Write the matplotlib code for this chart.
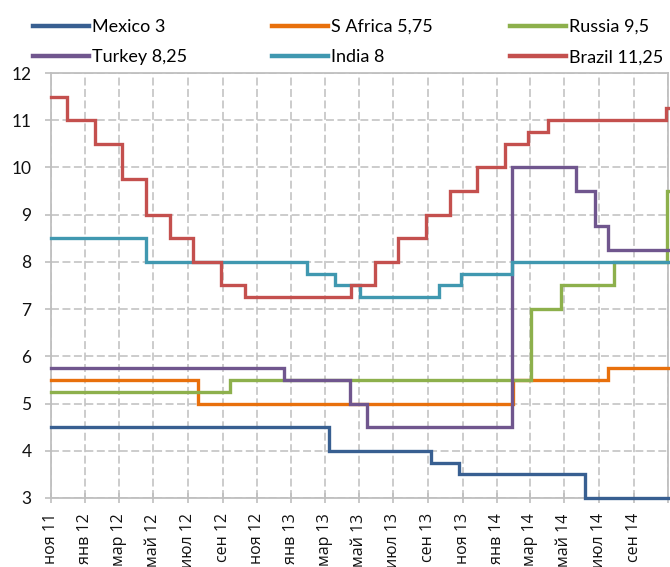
import matplotlib
matplotlib.use("Agg")
import matplotlib.pyplot as plt
from matplotlib.lines import Line2D
import numpy as np

plt.rcParams['font.family'] = ['Lato', 'Open Sans', 'DejaVu Sans']

# Policy rate changes (effective date, new rate, %)
mexico_dates = ['2011-11-01', '2013-03-08', '2013-09-06', '2013-10-25', '2014-06-06']
mexico_rates = [4.5, 4.0, 3.75, 3.5, 3.0]

safrica_dates = ['2011-11-01', '2012-07-19', '2014-01-29', '2014-07-17']
safrica_rates = [5.5, 5.0, 5.5, 5.75]

russia_dates = ['2011-11-01', '2012-09-14', '2014-03-03', '2014-04-25', '2014-07-28', '2014-10-31']
russia_rates = [5.25, 5.5, 7.0, 7.5, 8.0, 9.5]

turkey_dates = ['2011-11-01', '2012-12-18', '2013-04-16', '2013-05-16', '2014-01-28',
                '2014-05-22', '2014-06-24', '2014-07-17']
turkey_rates = [5.75, 5.5, 5.0, 4.5, 10.0, 9.5, 8.75, 8.25]

india_dates = ['2011-11-01', '2012-04-17', '2013-01-29', '2013-03-19', '2013-05-03',
               '2013-09-20', '2013-10-29', '2014-01-28']
india_rates = [8.5, 8.0, 7.75, 7.5, 7.25, 7.5, 7.75, 8.0]

brazil_dates = ['2011-11-01', '2011-11-30', '2012-01-18', '2012-03-07', '2012-04-18',
                '2012-05-30', '2012-07-11', '2012-08-29', '2012-10-10', '2013-04-17',
                '2013-05-29', '2013-07-10', '2013-08-28', '2013-10-09', '2013-11-27',
                '2014-01-15', '2014-02-26', '2014-04-02', '2014-10-29']
brazil_rates = [11.5, 11.0, 10.5, 9.75, 9.0, 8.5, 8.0, 7.5, 7.25, 7.5, 8.0, 8.5, 9.0,
                9.5, 10.0, 10.5, 10.75, 11.0, 11.25]

series_names = ['Mexico', 'S Africa', 'Russia', 'Turkey', 'India', 'Brazil']
series_dates = [mexico_dates, safrica_dates, russia_dates, turkey_dates, india_dates, brazil_dates]
series_rates = [mexico_rates, safrica_rates, russia_rates, turkey_rates, india_rates, brazil_rates]
series_colors = ['#385F91', '#E8700C', '#8DB04C', '#70568E', '#4098B0', '#C4504E']

start_date = '2011-11-01'
end_date = '2014-11-01'

tick_dates = ['2011-11-01', '2012-01-01', '2012-03-01', '2012-05-01', '2012-07-01',
              '2012-09-01', '2012-11-01', '2013-01-01', '2013-03-01', '2013-05-01',
              '2013-07-01', '2013-09-01', '2013-11-01', '2014-01-01', '2014-03-01',
              '2014-05-01', '2014-07-01', '2014-09-01']
tick_labels = ['ноя 11', 'янв 12', 'мар 12', 'май 12', 'июл 12', 'сен 12', 'ноя 12',
               'янв 13', 'мар 13', 'май 13', 'июл 13', 'сен 13', 'ноя 13', 'янв 14',
               'мар 14', 'май 14', 'июл 14', 'сен 14']


def fmt_rate(v):
    return ('%g' % v).replace('.', ',')


W, H = 670, 567
fig = plt.figure(figsize=(W / 100, H / 100), dpi=100)
ax = fig.add_axes([51 / W, 1 - 498 / H, (668 - 51) / W, (498 - 73) / H])

grid_color = '#BFBFBF'
for name, d, r, c in zip(series_names, series_dates, series_rates, series_colors):
    x = np.array(d + [end_date], dtype='datetime64[D]')
    y = r + [r[-1]]
    ax.plot(x, y, drawstyle='steps-post', color=c, lw=2.4,
            solid_joinstyle='miter', zorder=3, clip_on=False)

ax.set_xlim(np.datetime64(start_date), np.datetime64(end_date))
ax.set_ylim(3, 12)
ax.set_yticks(range(3, 13))
ax.set_yticklabels([str(v) for v in range(3, 13)])
ax.set_xticks(np.array(tick_dates + [end_date], dtype='datetime64[D]'))
ax.set_xticklabels(tick_labels + [''], rotation=90, va='top', ha='center',
                   family=['Open Sans', 'DejaVu Sans'])

ax.grid(True, color=grid_color, lw=1.1, linestyle=(0, (5.2, 2.3)), zorder=1)
for sp in ax.spines.values():
    sp.set_color(grid_color)
    sp.set_linewidth(1.3)
    sp.set_zorder(2)

ax.tick_params(axis='y', direction='out', length=4.5, width=1.2, color=grid_color,
               pad=9.5, labelsize=12.5, labelcolor='#111111')
ax.tick_params(axis='x', direction='inout', length=7, width=1.2, color=grid_color,
               pad=7.5, labelsize=11.5, labelcolor='#111111')

# Legend: three columns, two rows each
labels = ['%s %s' % (n, fmt_rate(r[-1])) for n, r in zip(series_names, series_rates)]
col_x = [33, 272, 510]
for col in range(3):
    idx = [col, col + 3]
    handles = [Line2D([], [], color=series_colors[i], lw=3.2) for i in idx]
    fig.legend(handles, [labels[i] for i in idx], loc='upper left',
               bbox_to_anchor=(col_x[col] / W, 1 - 19 / H), frameon=False,
               fontsize=13, handlelength=3.1, handletextpad=0.15,
               borderpad=0, borderaxespad=0, labelspacing=0.8)

fig.savefig('out.png', dpi=100)
